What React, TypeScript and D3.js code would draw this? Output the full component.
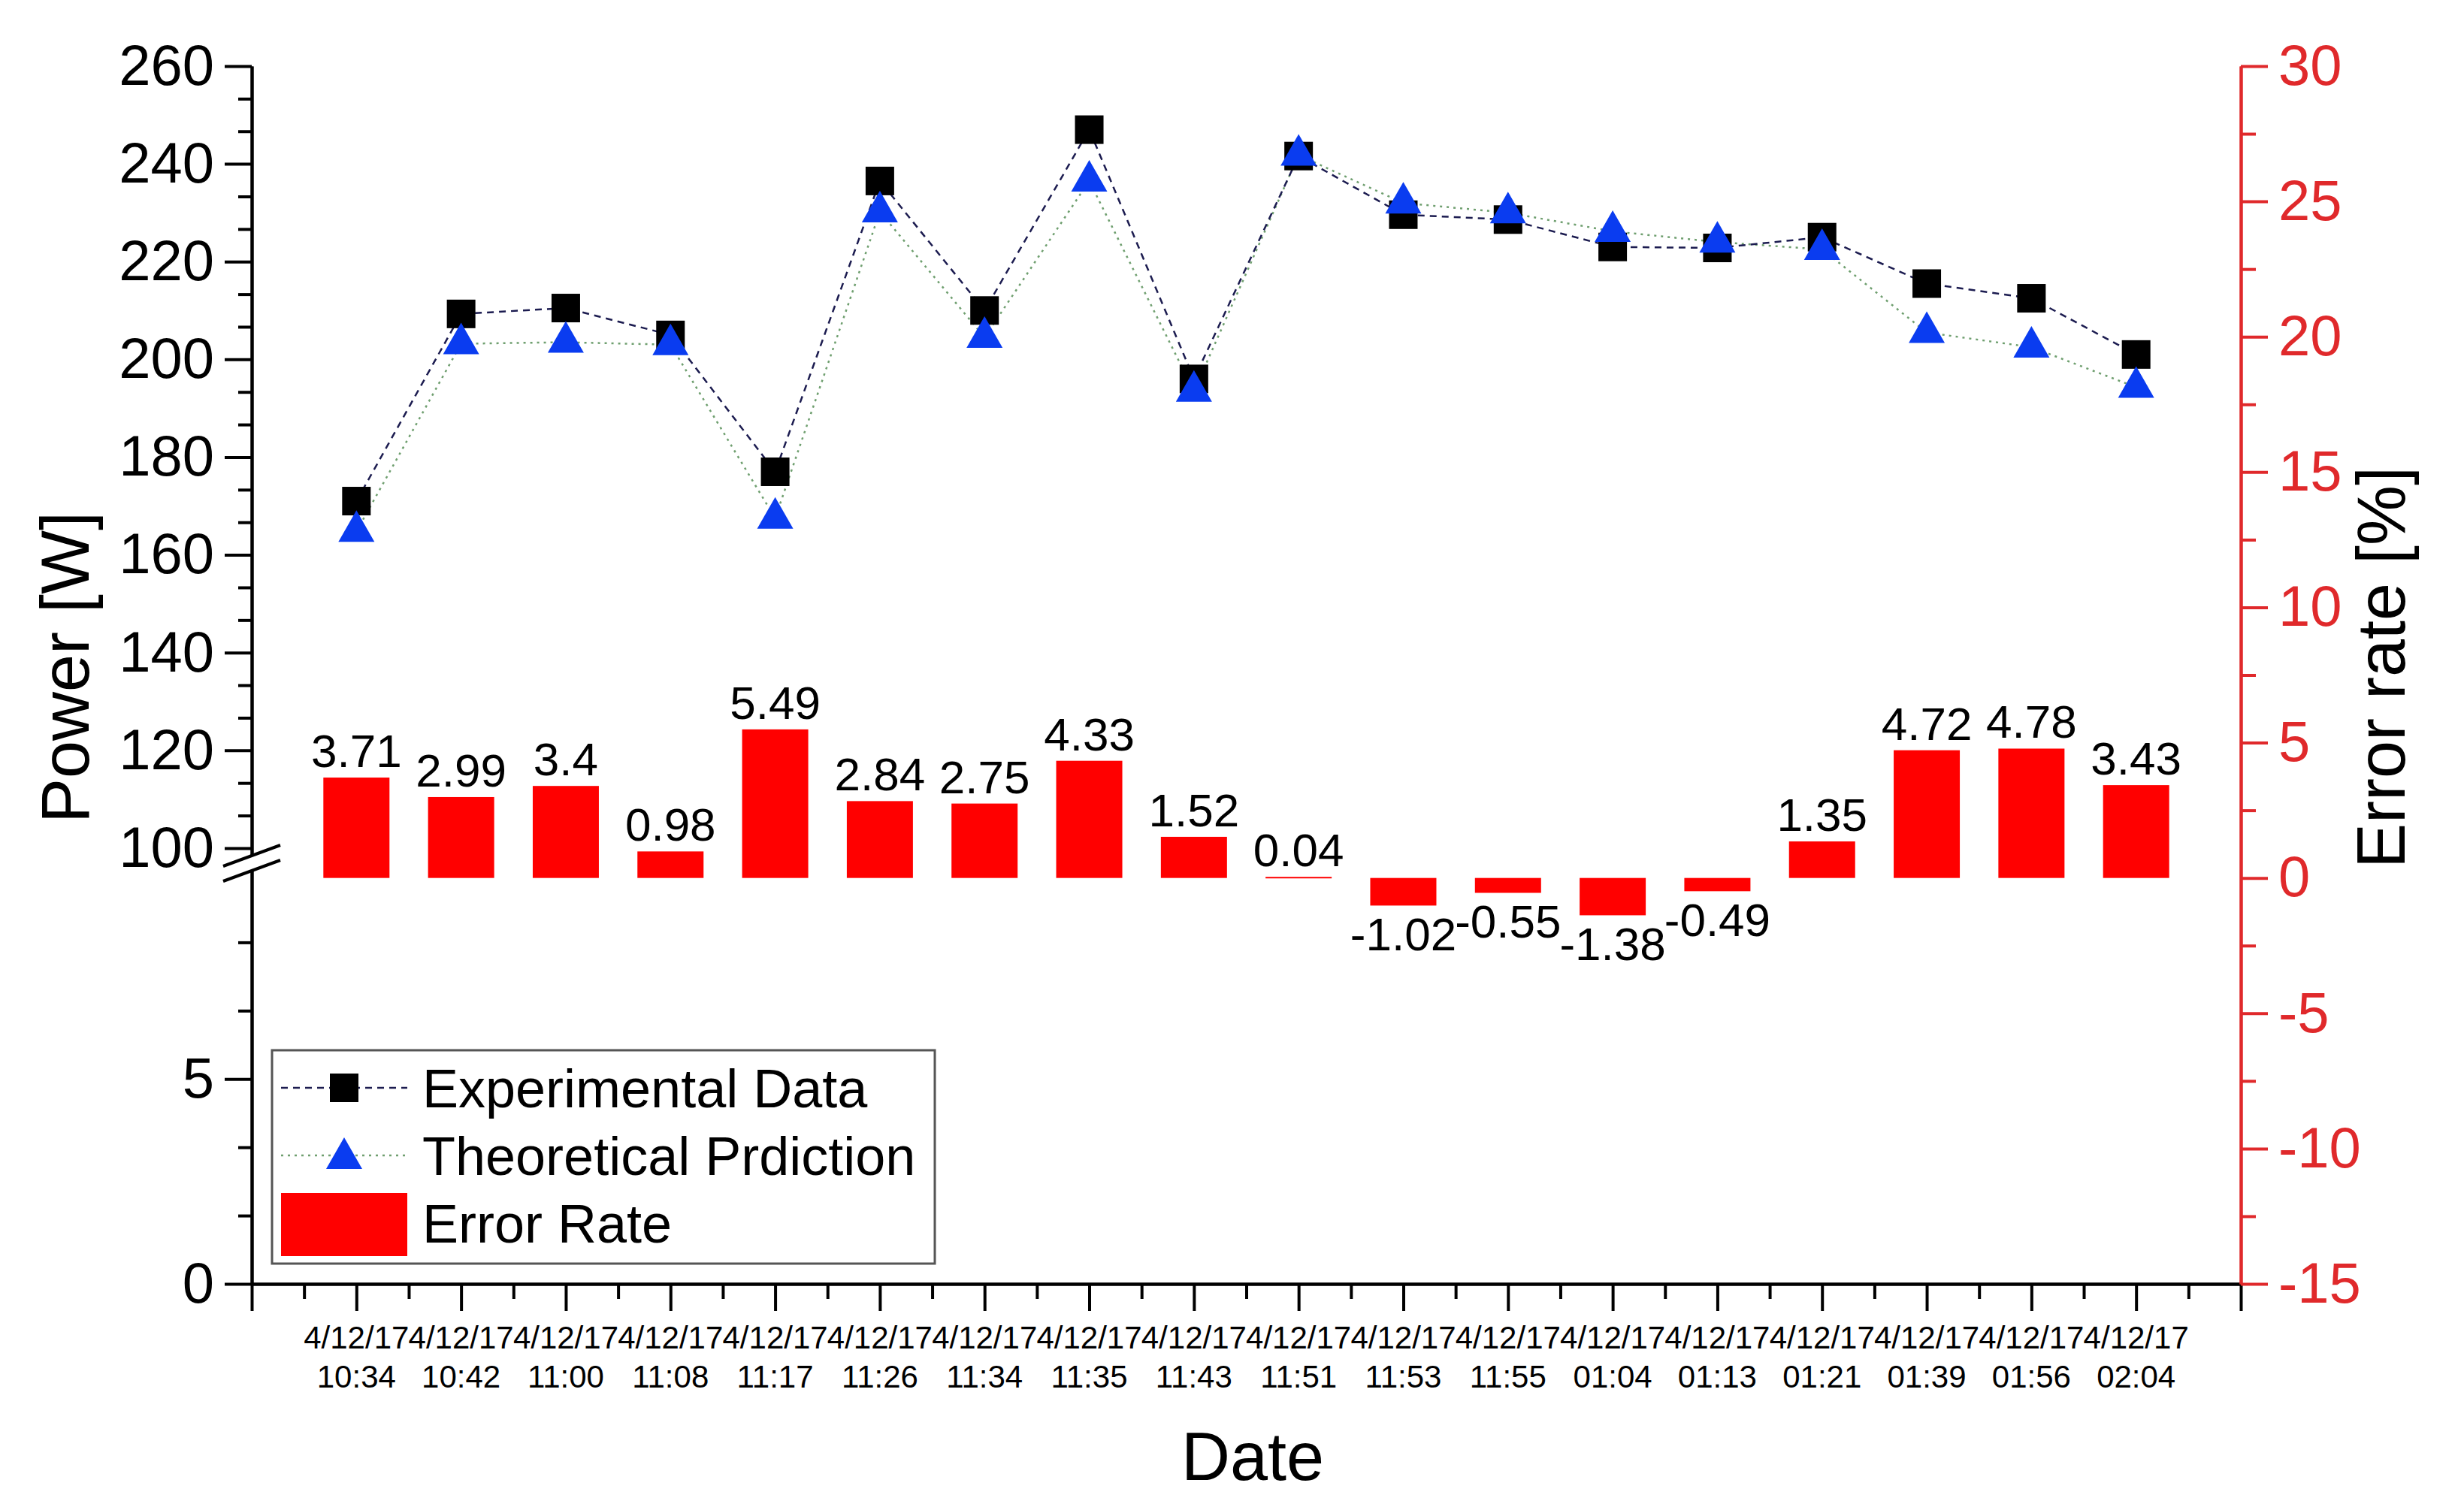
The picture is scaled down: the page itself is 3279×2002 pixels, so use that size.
import { useEffect, useRef } from "react";
import * as d3 from "d3";

const W = 3279;
const H = 2002;

const tickDates = [
  "4/12/17", "4/12/17", "4/12/17", "4/12/17", "4/12/17", "4/12/17",
  "4/12/17", "4/12/17", "4/12/17", "4/12/17", "4/12/17", "4/12/17",
  "4/12/17", "4/12/17", "4/12/17", "4/12/17", "4/12/17", "4/12/17",
];
const tickTimes = [
  "10:34", "10:42", "11:00", "11:08", "11:17", "11:26", "11:34", "11:35", "11:43",
  "11:51", "11:53", "11:55", "01:04", "01:13", "01:21", "01:39", "01:56", "02:04",
];
const experimental = [
  171, 209.3, 210.5, 205, 177, 236.5, 210, 247, 196,
  241.6, 229.6, 228.6, 223, 222.8, 225, 215.5, 212.5, 201,
];
const theoretical = [
  164.8, 203.2, 203.5, 203, 167.5, 230.2, 204.5, 236.5, 193.5,
  241.8, 232, 230, 226.2, 224, 222.5, 205.5, 202.5, 194.3,
];
const errorRate = [
  3.71, 2.99, 3.4, 0.98, 5.49, 2.84, 2.75, 4.33, 1.52,
  0.04, -1.02, -0.55, -1.38, -0.49, 1.35, 4.72, 4.78, 3.43,
];
const upperTicks = [100, 120, 140, 160, 180, 200, 220, 240, 260];
const lowerTicks = [0, 5];
const rightTicks = [-15, -10, -5, 0, 5, 10, 15, 20, 25, 30];

const FONT = "'Liberation Sans', Arial, sans-serif";
const RED_AXIS = "#e0292b";

export default function App() {
  const svgRef = useRef<SVGSVGElement>(null);

  useEffect(() => {
    const svg = svgRef.current;
    if (!svg) return;
    const root = d3.select(svg);
    root.selectAll("*").remove();

    const left = 335;
    const right = 2982;
    const top = 88;
    const bottom = 1709;
    const breakTop = 1140;
    const breakBottom = 1158;

    const x = d3.scaleLinear().domain([0, 19]).range([left, right]);
    const yUp = d3.scaleLinear().domain([98.3, 260]).range([breakTop, top]);
    const yLo = d3.scaleLinear().domain([0, 10.1]).range([bottom, breakBottom]);
    const yR = d3.scaleLinear().domain([-15, 30]).range([bottom, top]);

    const g = root.append("g").attr("font-family", FONT);

    const styleAxis = (sel: d3.Selection<SVGGElement, unknown, null, undefined>, color: string, size: number) => {
      sel.select(".domain").attr("stroke", color).attr("stroke-width", 4);
      sel.selectAll(".tick line").attr("stroke", color).attr("stroke-width", 4);
      sel.selectAll(".tick text")
        .attr("fill", color)
        .attr("font-size", size)
        .attr("font-family", FONT);
    };

    // bars (error rate, right axis)
    const barW = 88;
    const y0 = yR(0);
    g.append("g")
      .selectAll("rect")
      .data(errorRate)
      .enter()
      .append("rect")
      .attr("x", (_, i) => x(i + 1) - barW / 2)
      .attr("width", barW)
      .attr("y", (d) => Math.min(yR(d), y0))
      .attr("height", (d) => Math.max(Math.abs(yR(d) - y0), 2))
      .attr("fill", "#ff0000");

    g.append("g")
      .selectAll("text")
      .data(errorRate)
      .enter()
      .append("text")
      .attr("x", (_, i) => x(i + 1))
      .attr("y", (d) => (d >= 0 ? yR(d) - 14 : yR(d) + 60))
      .attr("text-anchor", "middle")
      .attr("font-size", 62)
      .attr("fill", "#000")
      .text((d) => String(d));

    // lines
    const line = d3
      .line<number>()
      .x((_, i) => x(i + 1))
      .y((d) => yUp(d));

    g.append("path")
      .attr("d", line(theoretical) ?? "")
      .attr("fill", "none")
      .attr("stroke", "#6f9f6f")
      .attr("stroke-width", 2.5)
      .attr("stroke-dasharray", "3,6");

    g.append("path")
      .attr("d", line(experimental) ?? "")
      .attr("fill", "none")
      .attr("stroke", "#1c1c50")
      .attr("stroke-width", 2.5)
      .attr("stroke-dasharray", "9,7");

    const sq = 38;
    g.append("g")
      .selectAll("rect")
      .data(experimental)
      .enter()
      .append("rect")
      .attr("x", (_, i) => x(i + 1) - sq / 2)
      .attr("y", (d) => yUp(d) - sq / 2)
      .attr("width", sq)
      .attr("height", sq)
      .attr("fill", "#000");

    // triangle with its centroid on the data point
    const triW = 48;
    const triH = 42;
    const tri = (cx: number, cy: number) =>
      `M${cx},${cy - (triH * 2) / 3}L${cx + triW / 2},${cy + triH / 3}L${cx - triW / 2},${cy + triH / 3}Z`;
    g.append("g")
      .selectAll("path")
      .data(theoretical)
      .enter()
      .append("path")
      .attr("d", (d, i) => tri(x(i + 1), yUp(d)))
      .attr("fill", "#0a3cf0");

    // x axis
    const xAxisMinor = g
      .append("g")
      .attr("transform", `translate(0,${bottom})`)
      .call(
        d3.axisBottom(x)
          .tickValues(d3.range(0.5, 19, 1))
          .tickSize(20)
          .tickSizeOuter(0)
          .tickFormat(() => "")
      );
    styleAxis(xAxisMinor, "#000", 40);
    const xAxis = g
      .append("g")
      .attr("transform", `translate(0,${bottom})`)
      .call(
        d3.axisBottom(x)
          .tickValues(d3.range(0, 20, 1))
          .tickSize(36)
          .tickSizeOuter(0)
          .tickFormat(() => "")
      );
    styleAxis(xAxis, "#000", 40);

    const xl = g.append("g").attr("font-size", 42).attr("fill", "#000").attr("text-anchor", "middle");
    xl.selectAll("text.d")
      .data(tickDates)
      .enter()
      .append("text")
      .attr("class", "d")
      .attr("x", (_, i) => x(i + 1))
      .attr("y", 1795)
      .text((d) => d);
    xl.selectAll("text.t")
      .data(tickTimes)
      .enter()
      .append("text")
      .attr("class", "t")
      .attr("x", (_, i) => x(i + 1))
      .attr("y", 1847)
      .text((d) => d);

    // left axis, upper segment
    const upMinor = g
      .append("g")
      .attr("transform", `translate(${left},0)`)
      .call(
        d3.axisLeft(yUp)
          .tickValues(d3.range(100, 260, 20).flatMap((v) => [v + 20 / 3, v + 40 / 3]))
          .tickSize(18)
          .tickSizeOuter(0)
          .tickFormat(() => "")
      );
    styleAxis(upMinor, "#000", 76);
    const upAxis = g
      .append("g")
      .attr("transform", `translate(${left},0)`)
      .call(
        d3.axisLeft(yUp)
          .tickValues(upperTicks)
          .tickSize(36)
          .tickSizeOuter(0)
          .tickPadding(14)
          .tickFormat(d3.format("d"))
      );
    styleAxis(upAxis, "#000", 76);

    // left axis, lower segment
    const loMinor = g
      .append("g")
      .attr("transform", `translate(${left},0)`)
      .call(
        d3.axisLeft(yLo)
          .tickValues([5 / 3, 10 / 3, 20 / 3, 25 / 3])
          .tickSize(18)
          .tickSizeOuter(0)
          .tickFormat(() => "")
      );
    styleAxis(loMinor, "#000", 76);
    const loAxis = g
      .append("g")
      .attr("transform", `translate(${left},0)`)
      .call(
        d3.axisLeft(yLo)
          .tickValues(lowerTicks)
          .tickSize(36)
          .tickSizeOuter(0)
          .tickPadding(14)
          .tickFormat(d3.format("d"))
      );
    styleAxis(loAxis, "#000", 76);

    // axis break marks
    const bc = (breakTop + breakBottom) / 2;
    g.append("path")
      .attr("d", `M${left - 38},${bc - 10 + 14}L${left + 38},${bc - 10 - 14}L${left + 38},${bc + 10 - 14}L${left - 38},${bc + 10 + 14}Z`)
      .attr("fill", "#fff");
    [-10, 10].forEach((o) => {
      g.append("line")
        .attr("x1", left - 38)
        .attr("y1", bc + o + 14)
        .attr("x2", left + 38)
        .attr("y2", bc + o - 14)
        .attr("stroke", "#000")
        .attr("stroke-width", 4);
    });

    // right axis
    const rMinor = g
      .append("g")
      .attr("transform", `translate(${right},0)`)
      .call(
        d3.axisRight(yR)
          .tickValues(d3.range(-12.5, 30, 5))
          .tickSize(20)
          .tickSizeOuter(0)
          .tickFormat(() => "")
      );
    styleAxis(rMinor, RED_AXIS, 76);
    const rAxis = g
      .append("g")
      .attr("transform", `translate(${right},0)`)
      .call(
        d3.axisRight(yR)
          .tickValues(rightTicks)
          .tickSize(36)
          .tickSizeOuter(0)
          .tickPadding(14)
          .tickFormat((d) => (Number(d) < 0 ? `-${Math.abs(Number(d))}` : String(d)))
      );
    styleAxis(rAxis, RED_AXIS, 76);

    // axis titles
    g.append("text")
      .attr("transform", `translate(118,${(top + bottom) / 2 - 10}) rotate(-90)`)
      .attr("text-anchor", "middle")
      .attr("font-size", 90)
      .text("Power [W]");
    g.append("text")
      .attr("transform", `translate(3200,${(top + bottom) / 2 - 10}) rotate(-90)`)
      .attr("text-anchor", "middle")
      .attr("font-size", 90)
      .text("Error rate [%]");
    g.append("text")
      .attr("x", 1667)
      .attr("y", 1970)
      .attr("text-anchor", "middle")
      .attr("font-size", 90)
      .text("Date");

    // legend
    const lg = g.append("g");
    lg.append("rect")
      .attr("x", 362)
      .attr("y", 1398)
      .attr("width", 882)
      .attr("height", 284)
      .attr("fill", "#fff")
      .attr("stroke", "#555")
      .attr("stroke-width", 3);
    const rows = [1448, 1538, 1628];
    lg.append("line")
      .attr("x1", 374).attr("x2", 542)
      .attr("y1", rows[0]).attr("y2", rows[0])
      .attr("stroke", "#1c1c50").attr("stroke-width", 2.5).attr("stroke-dasharray", "9,7");
    lg.append("rect")
      .attr("x", 458 - sq / 2).attr("y", rows[0] - sq / 2)
      .attr("width", sq).attr("height", sq).attr("fill", "#000");
    lg.append("line")
      .attr("x1", 374).attr("x2", 542)
      .attr("y1", rows[1]).attr("y2", rows[1])
      .attr("stroke", "#6f9f6f").attr("stroke-width", 2.5).attr("stroke-dasharray", "3,6");
    lg.append("path").attr("d", tri(458, rows[1] + 4)).attr("fill", "#0a3cf0");
    lg.append("rect")
      .attr("x", 374).attr("y", 1588)
      .attr("width", 168).attr("height", 84).attr("fill", "#ff0000");
    const names = ["Experimental Data", "Theoretical Prdiction", "Error Rate"];
    lg.selectAll("text")
      .data(names)
      .enter()
      .append("text")
      .attr("x", 562)
      .attr("y", (_, i) => rows[i] + 26)
      .attr("font-size", 72)
      .attr("fill", "#000")
      .text((d) => d);
  }, []);

  return (
    <svg
      ref={svgRef}
      width={W}
      height={H}
      style={{ position: "absolute", left: 0, top: 0, background: "#fff", display: "block" }}
    />
  );
}
